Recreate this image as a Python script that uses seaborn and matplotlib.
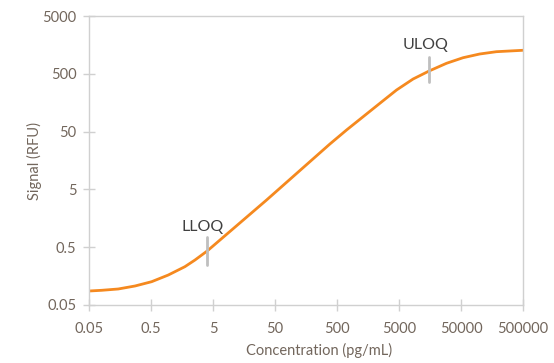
import numpy as np
import pandas as pd
import matplotlib
matplotlib.use("Agg")
import matplotlib.pyplot as plt
import seaborn as sns

# Values (log-log)
conc = [0.05, 0.0801, 0.148, 0.276, 0.512, 0.949, 1.76, 2.56, 4.03, 10.3,
        36.6, 126, 384, 713, 1320, 2450, 4560, 8430, 15300, 29200,
        54000, 100000, 186000, 500000]
signal = [0.0873, 0.0898, 0.0946, 0.1066, 0.1265, 0.165, 0.230, 0.300, 0.430, 1.02,
          3.28, 10.6, 30.5, 53.3, 90.5, 154, 262, 406, 559, 760,
          949, 1100, 1206, 1276]

x_ticks = [0.05, 0.5, 5, 50, 500, 5000, 50000, 500000]
x_tick_labels = ["0.05", "0.5", "5", "50", "500", "5000", "50000", "500000"]
y_ticks = [0.05, 0.5, 5, 50, 500, 5000]
y_tick_labels = ["0.05", "0.5", "5", "50", "500", "5000"]

lloq_x = 4.03
uloq_x = 15300
marker_lloq = (0.246, 0.75)
marker_uloq = (361, 975)

sns.set_theme(style="white")
plt.rcParams['font.family'] = ['Lato', 'DejaVu Sans']

df = pd.DataFrame({"conc": conc, "signal": signal})

fig = plt.figure(figsize=(5.54, 3.63), dpi=100)
ax = fig.add_axes([89/554, 1 - 305/363, (523-89)/554, (305-16)/363])

sns.lineplot(data=df, x="conc", y="signal", ax=ax, color="#F5891F", linewidth=2.0)

ax.set_xscale("log")
ax.set_yscale("log")
ax.set_xlim(0.05, 500000)
ax.set_ylim(0.05, 5000)
ax.set_xticks(x_ticks)
ax.set_xticklabels(x_tick_labels)
ax.set_yticks(y_ticks)
ax.set_yticklabels(y_tick_labels)
ax.minorticks_off()

label_color = "#72665c"
spine_color = "#D0D0D0"
for s in ax.spines.values():
    s.set_color(spine_color)
    s.set_linewidth(1.0)
ax.tick_params(axis="both", which="major", direction="inout", length=8, width=1.0,
               color=spine_color, labelcolor=label_color, labelsize=10.5,
               bottom=True, left=True)
ax.tick_params(axis="x", pad=8)
ax.tick_params(axis="y", pad=5)

ax.set_xlabel("Concentration (pg/mL)", color=label_color, fontsize=10.5)
ax.set_ylabel("Signal (RFU)", color=label_color, fontsize=10.5)
ax.xaxis.set_label_coords(0.53, -0.13)
ax.yaxis.set_label_coords(-0.108, 0.5)

# LLOQ / ULOQ markers
ax.plot([lloq_x, lloq_x], list(marker_lloq), color="#BFBFBF", linewidth=2, zorder=3)
ax.plot([uloq_x, uloq_x], list(marker_uloq), color="#BFBFBF", linewidth=2, zorder=3)
ax.text(3.4, 1.12, "LLOQ", ha="center", va="center", fontsize=11.5, color="#404040")
ax.text(13500, 1575, "ULOQ", ha="center", va="center", fontsize=11.5, color="#404040")

fig.savefig("out.png", dpi=100)
